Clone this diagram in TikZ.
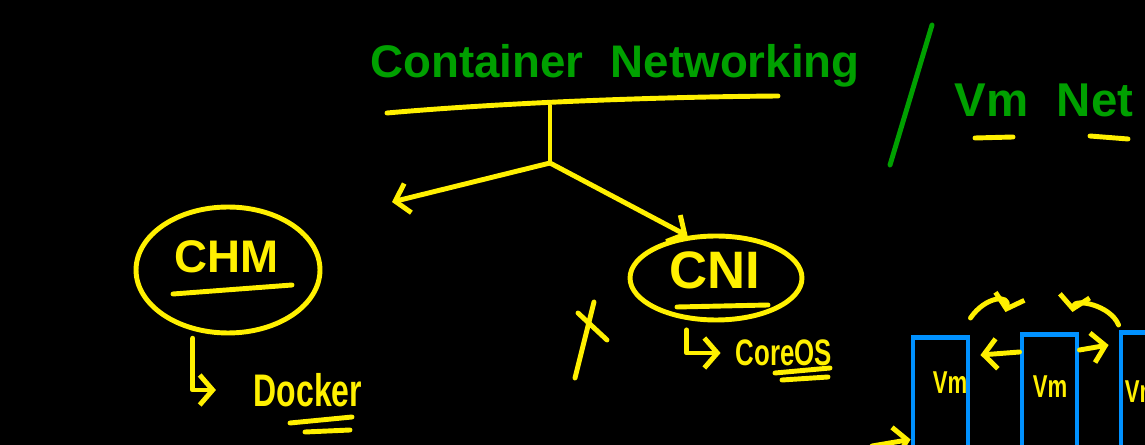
\documentclass[tikz,border=0pt]{standalone}
\usepackage{fontspec}
\setmainfont{Liberation Sans}
\newfontfamily\narrowhand[FakeStretch=0.7]{Liberation Sans}
\usetikzlibrary{arrows.meta, shapes.geometric, positioning}
\definecolor{penyellow}{RGB}{255,240,0}
\definecolor{pengreen}{RGB}{0,160,0}
\definecolor{penblue}{RGB}{0,145,255}

\begin{document}
\begin{tikzpicture}[x=0.02cm, y=-0.02cm,
  pen/.style={line width=2.8pt, line cap=round, line join=round},
  ink/.style={pen, draw=penyellow},
  gink/.style={pen, draw=pengreen},
  barb/.style={ink, -{Straight Barb[length=2.6mm, width=6mm]}},
  title/.style={text=pengreen, inner sep=0pt, font=\bfseries\fontsize{26}{30}\selectfont},
  bubble/.style={ellipse, draw=penyellow, line width=2.8pt, inner sep=0pt},
  word/.style={text=penyellow, inner sep=0pt},
  vmbox/.style={draw=penblue, line width=2.8pt, minimum width=1.1cm,
    minimum height=2.7cm, inner sep=0pt, anchor=north},
  vmword/.style={word, font=\narrowhand\bfseries\fontsize{18}{20}\selectfont}
]
  %% Board
  \fill[black] (0,0) rectangle (1145,445);
  \useasboundingbox (0,0) rectangle (1145,445);

  %% Heading
  \node[title] (title) at (615,66) {Container\hspace{0.6em}Networking};
  \draw[ink] (387,113) .. controls (500,103) and (650,97) .. (778,96);
  \draw[gink] (932,25) -- (890,165);
  \node[title, font=\bfseries\fontsize{27}{30}\selectfont] (vmnet) at (1044,100) {Vm\hspace{0.6em}Net};
  \draw[ink] (975,138) -- (1013,137);
  \draw[ink] (1090,136) -- (1128,139);

  %% Split
  \coordinate (stem) at (550,106);
  \coordinate (fork) at (550,163);
  \coordinate (ltip) at (392,202);
  \draw[ink] (stem) -- (fork);
  \draw[barb] (fork) -- (ltip);

  %% CHM
  \node[bubble, minimum width=3.68cm, minimum height=2.52cm] (chm) at (228,270) {};
  \node[word, font=\bfseries\fontsize{26}{30}\selectfont] (chmtext) at (227,257) {CHM};
  \draw[ink] (173,294) -- (292,285);
  \node[word, font=\narrowhand\bfseries\fontsize{26}{30}\selectfont] (docker) at (308,390) {Docker};
  \draw[barb, shorten >=0.75cm] ([yshift=-0.15cm]chm.240) |- (docker.west);
  \draw[ink] (290,423) -- (352,417);
  \draw[ink] (305,432) -- (350,430);

  %% CNI
  \node[bubble, minimum width=3.44cm, minimum height=1.68cm] (cni) at (716,278) {};
  \draw[barb] (fork) -- (cni.124);
  \node[word, font=\bfseries\fontsize{30}{34}\selectfont] (cnitext) at (715,270) {CNI};
  \draw[ink] (677,307) -- (768,305);
  \node[word, font=\narrowhand\bfseries\fontsize{21}{25}\selectfont] (coreos) at (784,353) {CoreOS};
  \draw[barb, shorten >=0.3cm] ([yshift=-0.2cm]cni.235) |- (coreos.west);
  \draw[ink] (775,373) -- (830,368);
  \draw[ink] (782,380) -- (828,377);

  %% cross
  \draw[ink] (575,378) -- (594,302);
  \draw[ink] (578,313) -- (607,340);

  %% VMs
  \node[vmbox] (vm1) at (940.5,335) {};
  \node[vmbox] (vm2) at (1049.5,332) {};
  \node[vmbox] (vm3) at (1148.5,330) {};
  \node[vmword] (vm1text) at (950,383) {Vm};
  \node[vmword] (vm2text) at (1050,387) {Vm};
  \node[vmword] (vm3text) at (1142,392) {Vm};
  \draw[barb] ([yshift=-0.4cm]vm2.north west) -- ([xshift=0.2cm,yshift=-0.4cm]vm1.north east);
  \draw[barb] ([yshift=-0.36cm]vm2.north east) -- ([xshift=-0.2cm,yshift=-0.3cm]vm3.north west);
  \draw[barb] ([yshift=0.34cm]vm1.north east) .. controls +(15,-22) and +(5,-18) .. ([xshift=-0.28cm,yshift=0.4cm]vm2.north west);
  \draw[barb] ([yshift=0.1cm]vm3.north west) .. controls +(-8,-20) and +(2,-14) .. ([xshift=-0.14cm,yshift=0.4cm]vm2.north east);
  \coordinate (vmin) at (872,446);
  \draw[barb] (vmin) -- ([yshift=-0.69cm]vm1.west);

\end{tikzpicture}
\end{document}
